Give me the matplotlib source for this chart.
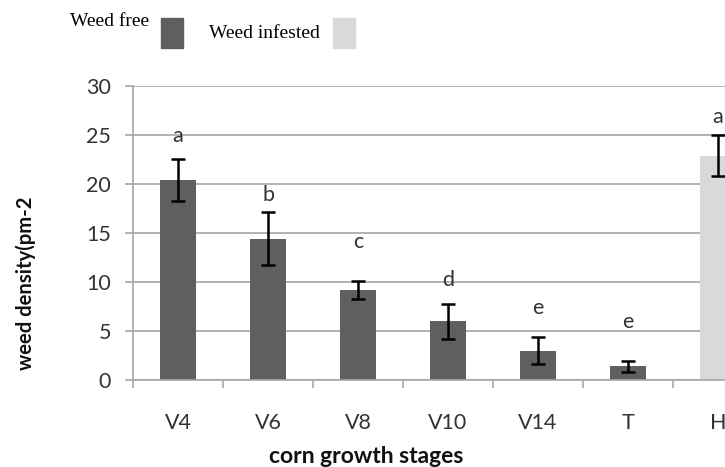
import numpy as np
import matplotlib
matplotlib.use("Agg")
import matplotlib.pyplot as plt
from matplotlib.patches import Rectangle

# data
stages = ["V4", "V6", "V8", "V10", "V14", "T", "H"]
density = [20.4, 14.4, 9.2, 6.0, 3.0, 1.4, 22.9]
err = [2.1, 2.7, 0.9, 1.8, 1.4, 0.55, 2.05]
letters = ["a", "b", "c", "d", "e", "e", "a"]
letter_y = [24.9, 18.9, 14.1, 10.2, 7.3, 5.95, 26.8]
free_color = "#5f5f5f"
infested_color = "#d9d9d9"
colors = [free_color] * 6 + [infested_color]

sans = ["Lato", "DejaVu Sans"]
serif = ["Liberation Serif", "DejaVu Serif"]

fig = plt.figure(figsize=(7.25, 4.67), dpi=100)
ax = fig.add_axes([133 / 725, 1 - 380 / 467, 630 / 725, 294 / 467])

x = np.arange(1, len(stages) + 1)
ax.bar(x, density, width=0.4, color=colors, zorder=2)
ax.errorbar(x, density, yerr=err, fmt="none", ecolor="black",
            elinewidth=1.8, capsize=5, capthick=1.8, zorder=3)
for xi, lab, ly in zip(x, letters, letter_y):
    ax.text(xi, ly, lab, ha="center", va="center", fontsize=15.5,
            family=sans, color="#333333")

ax.set_xlim(0.5, 7.5)
ax.set_ylim(0, 30)
ax.set_yticks(range(0, 31, 5))
ax.yaxis.grid(True, color="#a6a6a6", linewidth=1.2, zorder=0)
ax.set_axisbelow(True)
ax.set_xticks(np.arange(0.5, 7.5, 1.0))
ax.set_xticks(x, minor=True)
ax.set_xticklabels([])
ax.set_xticklabels(stages, minor=True)
ax.tick_params(axis="x", which="major", length=6, color="#a6a6a6", width=1.2)
ax.tick_params(axis="x", which="minor", length=0, pad=24, labelsize=15.5,
               labelcolor="#333333")
ax.tick_params(axis="y", length=5.8, color="#a6a6a6", width=1.2, pad=10,
               labelsize=15.5, labelcolor="#333333")
for t in ax.get_xticklabels(minor=True) + ax.get_yticklabels():
    t.set_family(sans)
for s in ["top", "right"]:
    ax.spines[s].set_visible(False)
for s in ["left", "bottom"]:
    ax.spines[s].set_color("#a6a6a6")
    ax.spines[s].set_linewidth(1.2)

fig.text(366 / 725, 1 - 463 / 467, "corn growth stages", ha="center",
         va="baseline", fontsize=16.5, fontweight="bold", family=sans,
         color="#111111")
fig.text(26 / 725, 1 - 283 / 467, "weed density(pm-2", ha="center",
         va="center", rotation=90, fontsize=14.6, fontweight="bold",
         family=sans, color="#111111")

# legend drawn by hand, like the reference
fig.text(70 / 725, 1 - 21 / 467, "Weed free", ha="left", va="center",
         fontsize=14, family=serif)
fig.text(209 / 725, 1 - 33 / 467, "Weed infested", ha="left", va="center",
         fontsize=14, family=serif)
for left, col in [(161, free_color), (333, infested_color)]:
    fig.add_artist(Rectangle((left / 725, 1 - 48 / 467), 22 / 725, 30 / 467,
                             transform=fig.transFigure, color=col))

fig.savefig("out.png", dpi=100)
